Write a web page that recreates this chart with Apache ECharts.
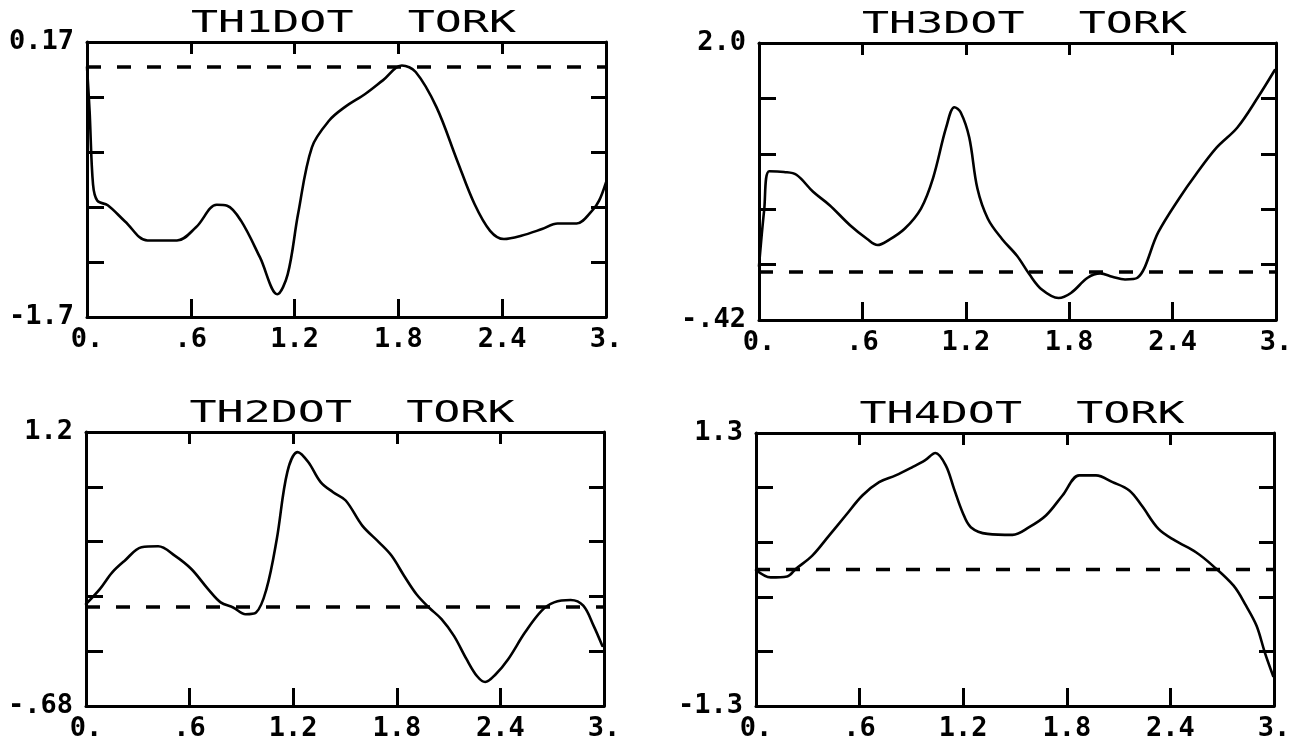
<!DOCTYPE html>
<html>
<head>
<meta charset="utf-8">
<title>TORK</title>
<script src="https://cdn.jsdelivr.net/npm/echarts@6/dist/echarts.min.js"></script>
<style>
  html, body { margin: 0; padding: 0; background: #fff; }
  #chart { width: 1308px; height: 743px; }
</style>
</head>
<body>
<div id="chart"></div>
<script>
// Panel titles, in drawing order: top-left, top-right, bottom-left, bottom-right
const titles = ['TH1DOT  TORK', 'TH3DOT  TORK', 'TH2DOT  TORK', 'TH4DOT  TORK'];

// Shared time axis
const xMin = 0;
const xMax = 3;
const xStep = 0.6;
const xTickLabels = ['0.', '.6', '1.2', '1.8', '2.4', '3.'];

// Vertical ranges and their printed end labels
const yMins = [-1.7, -0.42, -0.68, -1.3];
const yMaxs = [0.17, 2.0, 1.2, 1.3];
const yMinLabels = ['-1.7', '-.42', '-.68', '-1.3'];
const yMaxLabels = ['0.17', '2.0', '1.2', '1.3'];
const ySplits = 5;

// Reference level drawn dashed in every panel
const baseline = 0;

// Torque traces: [time, value]
const th1 = [
  [0.00, 0.00], [0.015, -0.30], [0.035, -0.80], [0.06, -0.91], [0.12, -0.94],
  [0.22, -1.05], [0.35, -1.18], [0.52, -1.18], [0.63, -1.09], [0.75, -0.937],
  [0.81, -0.943], [0.89, -1.045], [1.00, -1.295], [1.10, -1.545], [1.16, -1.41],
  [1.22, -1.0], [1.30, -0.546], [1.40, -0.364], [1.49, -0.273], [1.61, -0.182],
  [1.71, -0.091], [1.82, 0.01], [1.90, -0.034], [2.02, -0.273], [2.14, -0.637],
  [2.24, -0.932], [2.33, -1.114], [2.41, -1.17], [2.51, -1.148], [2.63, -1.102],
  [2.72, -1.064], [2.83, -1.064], [2.92, -0.977], [2.96, -0.909], [3.00, -0.784]
];

const th3 = [
  [0.00, 0.05], [0.03, 0.54], [0.06, 0.88], [0.145, 0.873], [0.217, 0.849],
  [0.314, 0.70], [0.41, 0.583], [0.53, 0.406], [0.628, 0.288], [0.688, 0.235],
  [0.748, 0.274], [0.845, 0.377], [0.94, 0.554], [1.01, 0.82], [1.086, 1.262],
  [1.134, 1.439], [1.17, 1.395], [1.22, 1.174], [1.267, 0.731], [1.328, 0.465],
  [1.41, 0.288], [1.497, 0.141], [1.569, -0.021], [1.641, -0.154], [1.738, -0.228],
  [1.81, -0.184], [1.907, -0.051], [1.98, -0.013], [2.05, -0.042], [2.124, -0.066],
  [2.196, -0.051], [2.317, 0.347], [2.438, 0.642], [2.534, 0.849], [2.655, 1.085],
  [2.776, 1.262], [2.896, 1.528], [2.993, 1.764]
];

const th2 = [
  [0.00, 0.02], [0.08, 0.122], [0.152, 0.237], [0.224, 0.317], [0.321, 0.409],
  [0.418, 0.416], [0.514, 0.352], [0.61, 0.26], [0.707, 0.122], [0.78, 0.031],
  [0.852, -0.004], [0.924, -0.05], [0.985, -0.038], [1.045, 0.122], [1.105, 0.466],
  [1.166, 0.925], [1.226, 1.062], [1.287, 0.994], [1.359, 0.856], [1.431, 0.787],
  [1.504, 0.73], [1.60, 0.558], [1.697, 0.443], [1.769, 0.352], [1.842, 0.214],
  [1.914, 0.087], [1.986, -0.004], [2.059, -0.084], [2.131, -0.199], [2.204, -0.359],
  [2.264, -0.474], [2.312, -0.515], [2.373, -0.462], [2.445, -0.359], [2.542, -0.176],
  [2.638, -0.027], [2.711, 0.031], [2.807, 0.047], [2.88, 0.008], [2.94, -0.13],
  [2.99, -0.267]
];

const th4 = [
  [0.00, -0.005], [0.085, -0.075], [0.18, -0.066], [0.23, 0.005], [0.326, 0.132],
  [0.423, 0.323], [0.519, 0.514], [0.616, 0.705], [0.713, 0.832], [0.809, 0.896],
  [0.906, 0.975], [0.978, 1.039], [1.039, 1.109], [1.099, 0.991], [1.147, 0.768],
  [1.196, 0.546], [1.244, 0.403], [1.341, 0.339], [1.486, 0.33], [1.582, 0.403],
  [1.679, 0.514], [1.775, 0.705], [1.872, 0.896], [1.969, 0.896], [2.065, 0.832],
  [2.162, 0.753], [2.234, 0.609], [2.331, 0.387], [2.428, 0.275], [2.548, 0.164],
  [2.645, 0.037], [2.766, -0.154], [2.838, -0.345], [2.899, -0.536], [2.947, -0.791],
  [2.995, -1.014]
];

const traces = [th1, th3, th2, th4];

// Plot frames in pixels
const frames = [
  { left: 87,  top: 42,  width: 519, height: 275 },
  { left: 759, top: 43,  width: 517, height: 277 },
  { left: 86,  top: 432, width: 518, height: 274 },
  { left: 756, top: 433, width: 518, height: 273 }
];

const INK = '#000';
const labelFont = { color: INK, fontFamily: 'DejaVu Sans Mono', fontWeight: 'bold', fontSize: 27 };

const grids = [], xAxes = [], yAxes = [], series = [], graphics = [];

frames.forEach((f, i) => {
  grids.push({ left: f.left, top: f.top, width: f.width, height: f.height, containLabel: false });

  const lineStyle = { color: INK, width: 3 };

  // bottom axis with labels, long inward ticks
  xAxes.push({
    type: 'value', gridIndex: i, position: 'bottom',
    min: xMin, max: xMax, interval: xStep,
    axisLine: { show: true, onZero: false, lineStyle },
    axisTick: { show: true, inside: true, length: 18, lineStyle },
    splitLine: { show: false },
    axisLabel: {
      show: true, margin: 9, ...labelFont,
      formatter: (v) => xTickLabels[Math.round((v - xMin) / xStep)]
    }
  });
  // top axis: frame edge with short ticks
  xAxes.push({
    type: 'value', gridIndex: i, position: 'top',
    min: xMin, max: xMax, interval: xStep,
    axisLine: { show: true, onZero: false, lineStyle },
    axisTick: { show: true, inside: true, length: 12, lineStyle },
    splitLine: { show: false },
    axisLabel: { show: false }
  });

  const lo = yMins[i], hi = yMaxs[i];
  const step = (hi - lo) / ySplits;
  // left axis: end labels only
  yAxes.push({
    type: 'value', gridIndex: i, position: 'left',
    min: lo, max: hi, interval: step,
    axisLine: { show: true, onZero: false, lineStyle },
    axisTick: { show: true, inside: true, length: 17, lineStyle },
    splitLine: { show: false },
    axisLabel: {
      show: true, margin: 13, ...labelFont,
      showMinLabel: true, showMaxLabel: true,
      formatter: (v) => {
        if (Math.abs(v - hi) < step / 10) return yMaxLabels[i];
        if (Math.abs(v - lo) < step / 10) return yMinLabels[i];
        return '';
      }
    }
  });
  // right axis: frame edge with ticks
  yAxes.push({
    type: 'value', gridIndex: i, position: 'right',
    min: lo, max: hi, interval: step,
    axisLine: { show: true, onZero: false, lineStyle },
    axisTick: { show: true, inside: true, length: 15, lineStyle },
    splitLine: { show: false },
    axisLabel: { show: false }
  });

  // torque trace
  series.push({
    type: 'line', xAxisIndex: i * 2, yAxisIndex: i * 2,
    data: traces[i], showSymbol: false, symbol: 'none',
    smooth: 0.35,
    lineStyle: { color: INK, width: 2.6, join: 'round', cap: 'round' },
    silent: true, z: 3
  });
  // dashed reference level
  series.push({
    type: 'line', xAxisIndex: i * 2, yAxisIndex: i * 2,
    data: [[xMin, baseline], [xMax, baseline]], showSymbol: false, symbol: 'none',
    lineStyle: { color: INK, width: 3.5, type: [14, 16] },
    silent: true, z: 2
  });

  // panel title
  graphics.push({
    type: 'text',
    x: f.left + f.width / 2 + 7,
    y: f.top - 18,
    scaleX: 1.5,
    style: {
      text: titles[i],
      fill: INK,
      font: 'normal 30px "DejaVu Sans Mono", monospace',
      textAlign: 'center',
      textVerticalAlign: 'middle'
    }
  });
});

const chart = echarts.init(document.getElementById('chart'), null, { renderer: 'canvas' });
chart.setOption({
  animation: false,
  backgroundColor: '#fff',
  grid: grids,
  xAxis: xAxes,
  yAxis: yAxes,
  series: series,
  graphic: graphics
});
</script>
</body>
</html>
